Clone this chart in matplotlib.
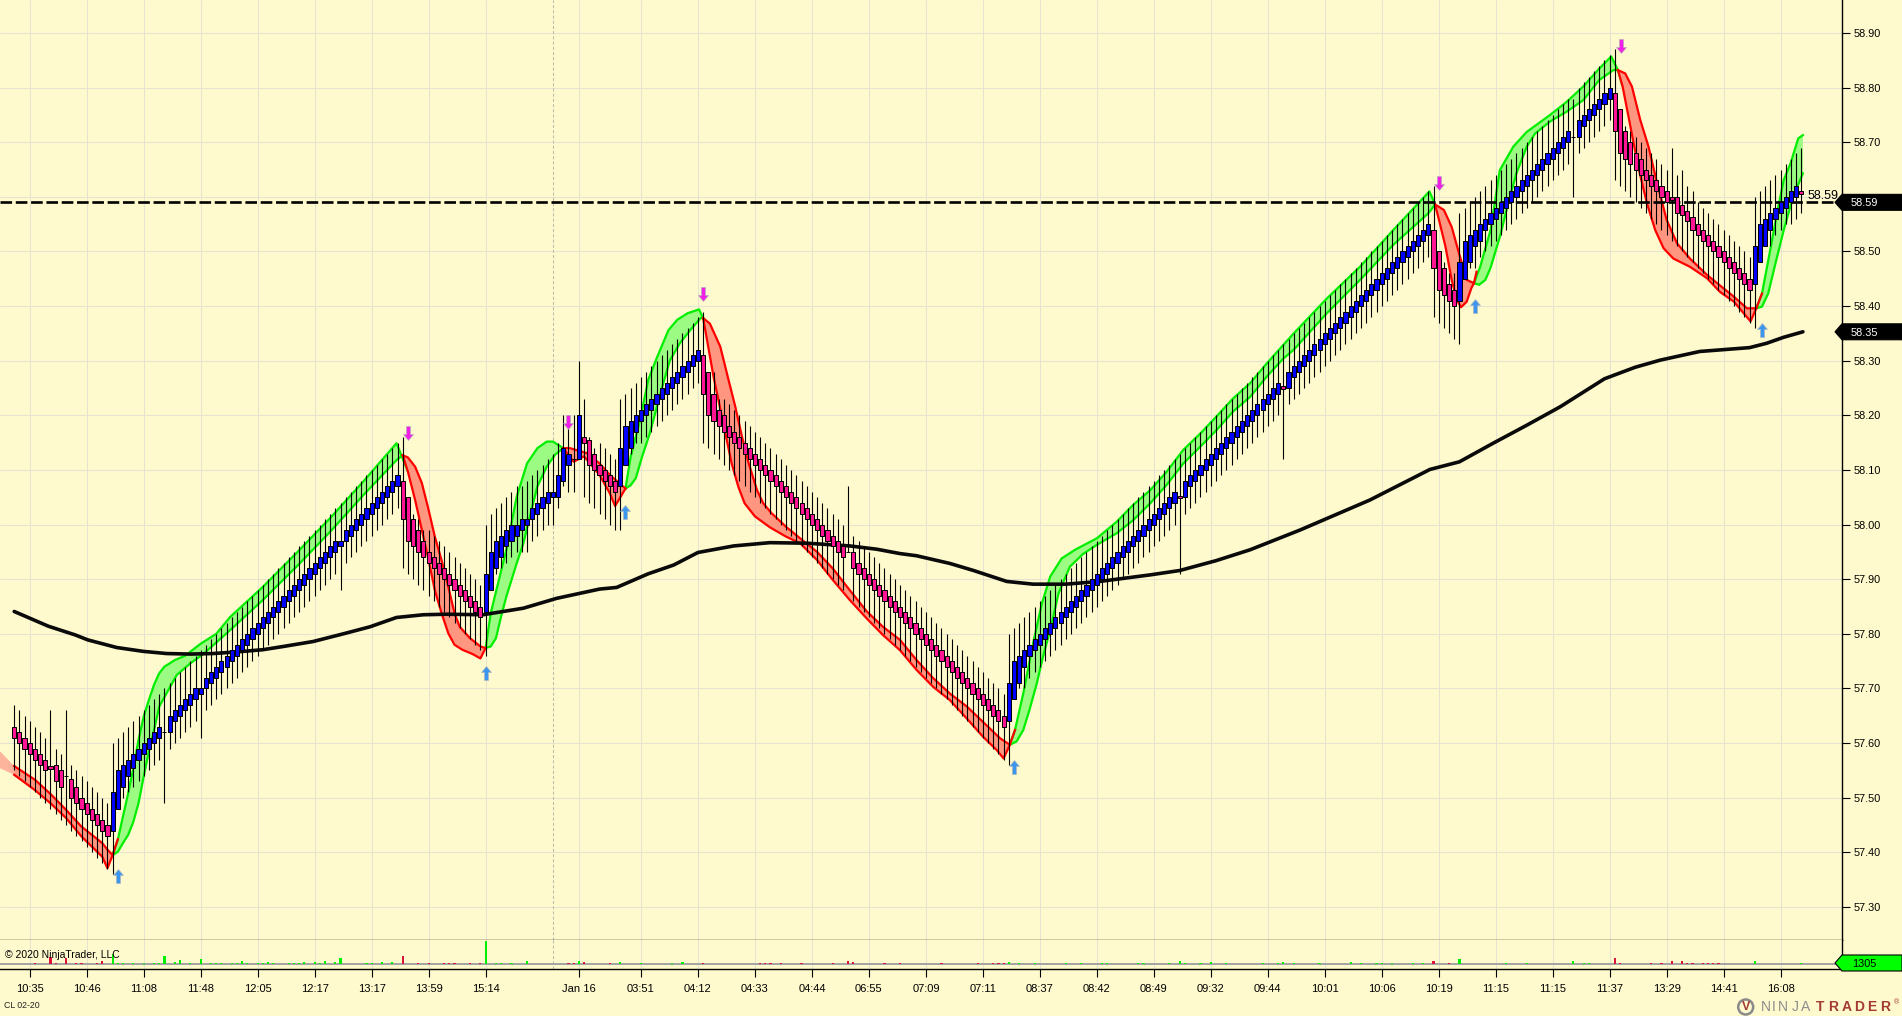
import numpy as np
import matplotlib
matplotlib.use("Agg")
import matplotlib.pyplot as plt
from matplotlib.path import Path
from matplotlib.patches import Polygon, Circle
from matplotlib.transforms import IdentityTransform

plt.rcParams['font.family'] = ['Liberation Sans', 'DejaVu Sans']

# ---------- bar data, price in cents ----------
opens = [
5763,5762,5761,5760,5759,5758,5757,5755.8,5756,5755,
5754,5753.5,5752,5750,5749,5748,5747,5746,5745,5744,
5748,5752,5754,5755.5,5757,5758,5759,5760,5761,5762,
5762,5764,5765,5766,5767,5768,5769,5770,5771,5772,
5773,5774,5775,5776,5777,5778,5779,5780,5781,5782,
5783,5784,5785,5786,5787,5788,5789,5790,5791,5792,
5793,5794,5795,5796,5797,5798,5799,5800,5801,5802,
5803,5804,5805,5806,5807,5808,5805,5801,5799,5797,
5795,5794,5793,5792,5791,5790,5789,5788,5787,5786,
5785,5784,5788,5792,5794,5796,5797,5798,5799,5800,
5801,5802,5803,5804,5805,5805,5808,5811,5812,5812,
5816,5815.5,5813,5811,5810,5809,5808,5807,5811,5814,
5817,5819,5820,5821,5822,5823,5824,5825,5826,5827,
5828,5829,5830,5831,5828,5824,5821,5820,5818,5817,
5816,5815,5814,5813,5812,5811,5810,5809,5808,5807,
5806,5805,5804,5803,5802,5801,5800,5799,5798,5797,
5796,5795,5795,5793,5792,5791,5790,5789,5788,5787,
5786,5785,5784,5783,5782,5781,5780,5779,5778,5777,
5776,5775,5774,5773,5772,5771,5770,5769,5768,5767,
5766,5765,5764,5768,5771,5774,5776,5777,5778,5779,
5780,5781,5782,5783,5784,5785,5786,5787,5788,5789,
5790,5791,5792,5793,5794,5795,5796,5797,5798,5799,
5800,5801,5802,5803,5804,5805.3,5805,5807,5808,5809,
5810,5811,5812,5813,5814,5815,5816,5817,5818,5819,
5820,5821,5822,5823,5824,5825.3,5825,5827,5828,5829,
5830,5831,5832,5833,5834,5835,5836,5837,5838,5839,
5840,5841,5842,5843,5844,5845,5846,5847,5848,5849,
5850,5851,5852,5853,5854,5850,5847,5844,5843,5841,
5845,5848,5851,5852,5854,5855,5856,5857,5858,5859,
5860,5861,5862,5863,5864,5865,5866,5867,5868,5869,
5870,5871,5871,5873,5874,5875,5876,5877,5878,5879,
5876,5872,5870,5868,5867,5865,5864,5863,5862,5861,
5860,5860,5858.5,5857.5,5856.4,5855,5854,5853,5852,5851,
5850,5849,5848,5847,5846,5845,5844,5848,5851,5854,
5856,5857,5858,5859,5860,5861]
closes = [
5761,5760,5759,5758,5757,5756,5755,5755.3,5753,5752,
5754,5750,5749,5748,5747,5746,5745,5744,5743,5751,
5755,5756,5757,5758,5759,5760,5761,5762,5763,5762,
5765,5766,5767,5768,5769,5770,5770,5772,5773,5774,
5775,5776,5777,5778,5779,5780,5781,5782,5783,5784,
5785,5786,5787,5788,5789,5790,5791,5792,5793,5794,
5795,5796,5797,5797,5799,5800,5801,5802,5803,5804,
5805,5806,5807,5808,5809,5801,5797,5796,5795,5794,
5793,5792,5791,5790,5789,5788,5787,5786,5785,5784,
5783,5791,5795,5797,5798,5799,5800,5800,5801,5801,
5803,5804,5805,5806,5806,5809,5814,5813,5812,5820,
5815,5811,5810,5809,5808,5807,5806,5814,5818,5819,
5820,5821,5822,5823,5824,5825,5826,5827,5828,5829,
5830,5831,5832,5824,5820,5819,5818,5817,5816,5815,
5814,5813,5812,5811,5810,5809,5808,5807,5806,5805,
5804,5803,5802,5801,5800,5799,5798,5797,5796,5795,
5794,5795,5792,5791,5790,5789,5788,5787,5786,5785,
5784,5783,5782,5781,5780,5779,5778,5777,5776,5775,
5774,5773,5772,5771,5770,5769,5768,5767,5766,5765,
5764,5763,5771,5775,5776,5777,5778,5779,5780,5781,
5782,5783,5784,5785,5786,5787,5788,5789,5790,5791,
5792,5793,5794,5795,5796,5797,5798,5799,5800,5801,
5802,5803,5804,5805,5806,5804.9,5808,5809,5810,5811,
5812,5813,5814,5815,5816,5817,5818,5819,5820,5821,
5822,5823,5824,5825,5826,5824.9,5828,5829,5830,5831,
5832,5833,5834,5835,5836,5837,5838,5839,5840,5841,
5842,5843,5844,5845,5846,5847,5848,5849,5850,5851,
5852,5853,5854,5855,5847,5843,5842,5841,5840,5848,
5852,5853,5854,5855,5856,5857,5858,5859,5860,5861,
5862,5863,5864,5865,5866,5867,5868,5869,5870,5871,
5872,5871,5874,5875,5876,5877,5878,5879,5880,5872,
5868,5867,5866,5865,5864,5863,5862,5861,5860,5859,
5859.4,5857,5856.6,5855.5,5854,5853,5852,5851,5850,5849,
5848,5847,5846,5845,5844,5843,5851,5855,5856,5857,
5858,5859,5860,5861,5862,5860.6]
highs = [
5767,5766,5765,5764,5763,5762,5761,5766,5759,5758,
5766,5756,5755,5754,5753,5752,5751,5750,5749,5760,
5761,5762,5763,5764,5765,5766,5767,5768,5769,5770,
5771,5772,5773,5774,5775,5776,5777,5778,5779,5780,
5781,5782,5783,5784,5785,5786,5787,5788,5789,5790,
5791,5792,5793,5794,5795,5796,5797,5798,5799,5800,
5801,5802,5803,5804,5805,5806,5807,5808,5809,5810,
5811,5812,5813,5814,5815,5816,5805,5802,5801,5799,
5799,5798,5797,5796,5795,5794,5793,5792,5791,5790,
5789,5800,5802,5803,5804,5805,5806,5807,5807,5808,
5809,5810,5811,5812,5813,5815,5820,5820,5820,5830,
5823,5816,5814,5815,5814,5813,5812,5823,5824,5825,
5826,5827,5828,5829,5830,5831,5832,5833,5834,5835,
5836,5837,5838,5839,5828,5828,5823,5823,5822,5821,
5820,5819,5818,5817,5816,5815,5814,5813,5812,5811,
5810,5809,5808,5807,5806,5805,5804,5803,5802,5801,
5800,5807,5798,5797,5796,5795,5794,5793,5792,5791,
5790,5789,5788,5787,5786,5785,5784,5783,5782,5781,
5780,5779,5778,5777,5776,5775,5774,5773,5772,5771,
5770,5769,5780,5781,5782,5783,5784,5785,5786,5787,
5788,5789,5790,5791,5792,5793,5794,5795,5796,5797,
5798,5799,5800,5801,5802,5803,5804,5805,5806,5807,
5808,5809,5810,5811,5812,5813,5814,5815,5816,5817,
5818,5819,5820,5821,5822,5823,5824,5825,5826,5827,
5828,5829,5830,5831,5832,5833,5834,5835,5836,5837,
5838,5839,5840,5841,5842,5843,5844,5845,5846,5847,
5848,5849,5850,5851,5852,5853,5854,5855,5856,5857,
5858,5859,5860,5861,5862,5850,5848,5846,5846,5857,
5858,5859,5860,5861,5862,5863,5864,5865,5866,5867,
5868,5869,5870,5871,5872,5873,5874,5875,5876,5877,
5878,5878,5880,5881,5882,5883,5884,5885,5886,5887,
5876,5873,5872,5871,5870,5869,5868,5867,5866,5865,
5869,5864,5865,5862,5861,5859,5858,5857,5856,5855,
5854,5853,5852,5851,5850,5849,5860,5861,5862,5863,
5864,5865,5866,5867,5868,5869]
lows = [
5755,5754,5753,5752,5751,5750,5749,5748,5747,5746,
5745,5744,5743,5742,5741,5740,5739,5738,5737,5736,
5748,5750,5751,5752,5753,5754,5755,5756,5757,5749,
5759,5760,5761,5762,5763,5764,5761,5766,5767,5768,
5769,5770,5771,5772,5773,5774,5775,5776,5777,5778,
5779,5780,5781,5782,5783,5784,5785,5786,5787,5788,
5789,5790,5791,5788,5793,5794,5795,5796,5797,5798,
5799,5800,5801,5802,5803,5792,5791,5790,5789,5788,
5787,5786,5785,5784,5783,5782,5781,5780,5779,5778,
5777,5776,5788,5791,5792,5793,5794,5795,5795,5795,
5797,5798,5799,5800,5800,5803,5807,5806,5806,5812,
5805,5804,5803,5802,5801,5800,5799,5799,5811,5813,
5815,5815,5816,5817,5818,5819,5820,5821,5822,5823,
5824,5825,5826,5815,5814,5813,5812,5811,5810,5809,
5808,5807,5806,5805,5804,5803,5802,5801,5800,5799,
5798,5797,5796,5795,5794,5793,5792,5791,5790,5789,
5788,5795,5786,5785,5784,5783,5782,5781,5780,5779,
5778,5777,5776,5775,5774,5773,5772,5771,5770,5769,
5768,5767,5766,5765,5764,5763,5762,5761,5760,5759,
5758,5757,5756,5768,5770,5770,5772,5773,5774,5775,
5776,5777,5778,5779,5780,5781,5782,5783,5784,5785,
5786,5787,5788,5789,5790,5791,5792,5793,5794,5795,
5796,5797,5798,5799,5800,5791,5802,5803,5804,5805,
5806,5807,5808,5809,5810,5811,5812,5813,5814,5815,
5816,5817,5818,5819,5820,5812,5822,5823,5824,5825,
5826,5827,5828,5829,5830,5831,5832,5833,5834,5835,
5836,5837,5838,5839,5840,5841,5842,5843,5844,5845,
5846,5847,5848,5849,5838,5837,5836,5835,5834,5833,
5845,5847,5847,5849,5850,5851,5852,5853,5854,5855,
5856,5857,5858,5859,5860,5861,5862,5863,5864,5865,
5866,5860,5868,5869,5870,5871,5872,5873,5874,5863,
5862,5861,5860,5859,5858,5857,5856,5855,5854,5853,
5852,5851,5850,5849,5848,5847,5846,5845,5844,5843,
5842,5841,5840,5839,5838,5837,5836,5848,5851,5851,
5853,5854,5855,5855,5856,5857]

# ---------- volume (sparse) ----------
up_vol_idx = [19,20,21,23,25,27,28,29,31,32,34,36,38,39,40,42,43,44,45,47,48,49,50,53,54,55,56,58,59,60,62,63,68,69,71,73,
              91,93,94,96,99,109,117,121,127,129,192,194,197,203,206,210,211,217,218,223,225,226,229,231,234,241,244,245,247,252,
              258,260,263,264,266,270,272,279,288,292,301,303,304,336,345]
up_vol = [13000,1300,1300,1300,1300,1300,1300,10400,2600,5200,1300,6500,1300,1300,1300,1300,1300,3900,1300,1300,1300,2000,1300,1300,1300,1300,2000,2600,1300,3900,2600,7800,1300,1300,2000,2000,
          29900,1300,1300,1300,3900,3900,2000,1300,1300,2600,3200,1300,1300,1300,1300,1300,1300,1300,1300,1300,4500,1300,1300,2600,1300,1300,1300,3200,1300,1300,
          2000,1300,1300,1300,1300,1300,1300,7000,1300,1300,4500,1300,1300,4500,1305]
down_vol_idx = [4,7,8,10,12,13,16,17,75,78,80,83,84,85,88,90,107,108,110,115,133,144,145,146,148,152,158,161,162,168,171,179,186,189,190,191,
                274,277,309,310,316,318,320,322,323,324,326,327,328,329]
down_vol = [1300,9000,1300,7800,1300,1300,1300,3900,10400,1300,1300,1300,1300,1300,1300,1300,1300,1300,3200,1300,1300,1300,1300,1300,1300,1300,1300,3900,2600,1300,1300,1300,1300,1300,1300,1300,
            3900,1300,7800,1300,1300,1300,3900,3900,1300,1300,1300,1300,1300,1300]

# ---------- indicator bands: (upper idx, upper, lower idx, lower) ----------
red0 = ([0,4,7,10,13,17,18,19],[57.558,57.533,57.507,57.478,57.447,57.417,57.405,57.395],
        [0,4,7,10,13,17,18,19,20],[57.542,57.514,57.490,57.463,57.429,57.392,57.371,57.395,57.424])
red0_pale = ([-2.74,0],[57.585,57.558],[-2.74,0],[57.554,57.542])
green0 = ([19,20,21,22,23,24,25,26,27,28,29,31,33,36,39,41.7,48,54.5,61,67.4,73.8,76],
          [57.395,57.423,57.466,57.508,57.554,57.606,57.649,57.679,57.707,57.728,57.740,57.752,57.760,57.782,57.800,57.831,57.886,57.948,58.012,58.079,58.149,58.097],
          [19,20,21,22,23,24,25,26,27,28,29.4,31.4,34,36.5,41.7,48,54.5,61,67.4,73.8,75],
          [57.395,57.401,57.417,57.432,57.456,57.490,57.539,57.585,57.624,57.667,57.691,57.725,57.746,57.763,57.807,57.862,57.923,57.987,58.054,58.118,58.127])
red1 = ([75,76,77.4,78.7,80,81.2,82.5,83.8,85,86,88,90,91],
        [58.127,58.123,58.106,58.076,58.027,57.978,57.935,57.886,57.838,57.813,57.792,57.777,57.774],
        [75,76,77.4,78.7,80,81.2,82.5,83.8,85,86.5,88.5,90,91],
        [58.127,58.097,58.045,57.990,57.935,57.880,57.838,57.801,57.780,57.771,57.763,57.755,57.774])
green1 = ([91,92,93,95,97,99,101,102.8,104,106],
          [57.774,57.838,57.877,57.954,58.051,58.112,58.140,58.152,58.152,58.140],
          [91,92,93,94,95,97,98.3,99.2,101,102.8,104.4,106],
          [57.774,57.777,57.792,57.832,57.868,57.929,57.966,58.002,58.070,58.106,58.128,58.140])
red2 = ([106,107.3,110.5,113,115,118],[58.140,58.140,58.131,58.112,58.091,58.066],
        [106,108,110,113,115,116,118],[58.140,58.115,58.125,58.091,58.057,58.034,58.066])
green2 = ([118,119,120.8,122.4,124,126.3,128,130,132.2,133],
          [58.066,58.124,58.191,58.265,58.304,58.356,58.375,58.387,58.394,58.378],
          [118,119,120,121.2,122.7,124,125.3,126.6,128.5,130.5,132.5,133],
          [58.066,58.072,58.085,58.124,58.167,58.213,58.259,58.301,58.332,58.356,58.378,58.378])
red3 = ([133,134.3,136.3,137.9,139.2,140.5,141.8,143.4,144.6,146.2,149,151.7,155,158,161.3,164.6,167.7,171,174.2,177.4,180.6,183.9,187,190.3,192.2],
        [58.378,58.368,58.326,58.265,58.216,58.161,58.112,58.063,58.039,58.021,57.996,57.975,57.950,57.920,57.880,57.841,57.813,57.789,57.752,57.719,57.691,57.667,57.639,57.609,57.597],
        [133,135,136.9,138.5,139.8,141,143,145.9,149,151.7,155,158,161.3,164.6,167.7,171,174.2,177.4,180.6,183.9,187,189.7,191,192.2,193.2],
        [58.378,58.271,58.185,58.112,58.069,58.039,58.015,57.995,57.978,57.966,57.935,57.899,57.862,57.828,57.798,57.770,57.734,57.703,57.679,57.645,57.612,57.587,57.572,57.597,57.624])
green3 = ([192.2,193.2,194.8,196.7,198.4,200,202.2,204.8,209,212.8,216,219.3,222.5,225.7,229,232.1,235.3,238.6,241.8,245,247,253.4,259.8,266.2,273.2,274.3,275.2],
          [57.597,57.624,57.691,57.783,57.856,57.905,57.938,57.954,57.975,58.005,58.036,58.063,58.097,58.137,58.167,58.198,58.231,58.259,58.295,58.329,58.350,58.414,58.472,58.539,58.610,58.586,58.558],
          [192.2,193.5,194.8,196,197.4,198.6,200,201.6,203.8,206.3,209,212.8,216,219.3,222.5,225.7,229,232.1,235.3,238.6,241.8,245,247,253.4,259.8,266.2,273,274.3],
          [57.597,57.603,57.624,57.661,57.709,57.758,57.807,57.874,57.923,57.946,57.963,57.984,58.008,58.039,58.073,58.112,58.143,58.173,58.207,58.234,58.271,58.304,58.320,58.387,58.448,58.512,58.570,58.586])
red4 = ([274.3,276,277.5,279,280.4,281.8],[58.586,58.576,58.545,58.494,58.448,58.442],
        [274.3,275.2,276.3,277.5,278.5,279.3,280.4,281.3,281.8,282.3],[58.586,58.552,58.509,58.448,58.411,58.398,58.408,58.433,58.442,58.463])
green4 = ([281.8,283,285,286.8,289.4,292,296.5,299.7,302.9,306,308.3,309.6,310.4],
          [58.442,58.472,58.539,58.649,58.692,58.719,58.750,58.774,58.802,58.835,58.857,58.832,58.805],
          [281.8,282.8,284,285,286.9,288.4,290,292,293.6,296.5,299.7,302.9,306,308.7,309.6],
          [58.442,58.439,58.448,58.470,58.530,58.588,58.643,58.692,58.716,58.738,58.756,58.777,58.814,58.832,58.832])
red5 = ([309.6,311,312.3,313.9,315.5,317,319,321,323.5,326.8,332,334.5,336.3],
        [58.832,58.826,58.802,58.741,58.692,58.631,58.558,58.515,58.487,58.457,58.417,58.396,58.396],
        [309.6,310.5,312,313.5,315.2,316.8,318.4,320.3,323.5,326.8,329.3,332,335.2,336.3,337.4],
        [58.832,58.802,58.729,58.655,58.588,58.539,58.506,58.487,58.472,58.451,58.426,58.408,58.372,58.396,58.423])
green5 = ([336.3,337.4,339,340.3,341.6,342.9,344.4,345.3],[58.396,58.423,58.503,58.570,58.631,58.661,58.707,58.713],
          [336.3,337.4,338.6,340,341.6,343.4,345.3],[58.396,58.399,58.423,58.478,58.539,58.600,58.643])

# ---------- slow average ----------
avg_idx = [0,6.6,11.8,14.2,19.8,24.9,29.4,34,38.4,43,48,52,57.7,63.5,68.7,73.8,79,83.5,90.5,98.3,104.7,113,116.3,122.4,127.3,132,138.9,145.9,153,161.3,166.5,171,174.2,180.6,185.2,191.6,196.7,203,209.6,212,219.3,225,232,238.6,248.2,261.7,267.5,273.3,279,285.5,292,298.5,307,312.9,317.7,325.4,335,338.3,341.6,345.3]
avg_val = [57.841,57.814,57.798,57.789,57.775,57.768,57.764,57.763,57.764,57.767,57.771,57.777,57.786,57.800,57.813,57.830,57.835,57.836,57.835,57.847,57.865,57.882,57.885,57.910,57.926,57.949,57.961,57.967,57.966,57.961,57.955,57.947,57.943,57.929,57.916,57.896,57.891,57.891,57.896,57.899,57.908,57.916,57.934,57.954,57.990,58.045,58.073,58.101,58.115,58.149,58.182,58.216,58.267,58.288,58.301,58.317,58.324,58.332,58.343,58.353]

# ---------- signal arrows ----------
up_arrow_idx = [20,91,118,193,282,337.4]
up_arrow_price = [57.357,57.728,58.023,57.556,58.400,58.356]
down_arrow_idx = [76,107,133,275,310.2]
down_arrow_price = [58.168,58.187,58.422,58.626,58.877]

# ---------- axis labels ----------
y_ticks = [57.30,57.40,57.50,57.60,57.70,57.80,57.90,58.00,58.10,58.20,58.30,58.40,58.50,58.60,58.70,58.80,58.90]
y_tick_labels = ["57.30","57.40","57.50","57.60","57.70","57.80","57.90","58.00","58.10","58.20","58.30","58.40","58.50","","58.70","58.80","58.90"]
x_tick_idx = [3,14,25,36,47,58,69,80,91,109,121,132,143,154,165,176,187,198,209,220,231,242,253,264,275,286,297,308,319,330,341]
x_tick_labels = ["10:35","10:46","11:08","11:48","12:05","12:17","13:17","13:59","15:14","Jan 16","03:51","04:12","04:33","04:44","06:55","07:09","07:11","08:37","08:42","08:49","09:32","09:44","10:01","10:06","10:19","11:15","11:15","11:37","13:29","14:41","16:08"]
session_break_idx = 104
last_line = 58.59
avg_flag = 58.353
vol_flag = 1305

# ---------- style ----------
BG = '#FFFACD'; GRID = '#E6E3D0'
PINK = '#FF1493'; BLUE = '#0000FF'
LIME = '#00EE00'; LIME_FILL = '#9CFB82'
RED = '#FF0000'; RED_FILL = '#FF9680'; PALE = '#FDB49C'
W, H = 1902, 1016
AX_R = 1842; P_BOT = 939.5; V_BOT = 969

fig = plt.figure(figsize=(W/100, H/100), dpi=100, facecolor=BG)
ax = fig.add_axes([0, (H-P_BOT)/H, AX_R/W, P_BOT/H], facecolor=BG)
vax = fig.add_axes([0, (H-V_BOT)/H, AX_R/W, (V_BOT-P_BOT)/H], facecolor=BG, sharex=ax)

XL = (-2.741, 352.85)
ax.set_xlim(*XL)
ax.set_ylim(57.2405, 58.9604)
vax.set_ylim(-6500, 31850)

# axes, grid
for a in (ax, vax):
    for s in ('top', 'left'):
        a.spines[s].set_visible(False)
    for s in ('right', 'bottom'):
        a.spines[s].set_color('black'); a.spines[s].set_linewidth(1.0)
    a.set_axisbelow(True)
    a.vlines(x_tick_idx, 0, 1, transform=a.get_xaxis_transform(), color=GRID, lw=0.75, zorder=0.5)
    a.vlines([session_break_idx], 0, 1, transform=a.get_xaxis_transform(), color='#BDBDAE', lw=0.75,
             linestyles=(0, (3, 2)), zorder=0.6)
ax.hlines(y_ticks, 0, 1, transform=ax.get_yaxis_transform(), color=GRID, lw=0.75, zorder=0.5)

ax.yaxis.tick_right()
ax.set_yticks(y_ticks)
ax.set_yticklabels(y_tick_labels, fontsize=7.8, color='black')
ax.tick_params(axis='y', length=6, width=0.8, pad=2.5, direction='out')
ax.tick_params(axis='x', length=0, labelbottom=False)
vax.set_yticks([])
vax.set_xticks(x_tick_idx)
vax.set_xticklabels(x_tick_labels, fontsize=8.0)
vax.tick_params(axis='x', length=6, width=0.8, pad=4.5, direction='out')

# bands
def band(spec, fill, line, z=2.0):
    ux, uy, lx, ly = spec
    px = list(ux) + list(lx)[::-1]
    py = list(uy) + list(ly)[::-1]
    ax.fill(px, py, color=fill, lw=0, zorder=z)
    if line:
        ax.plot(ux, uy, color=line, lw=1.6, zorder=z+0.1, solid_joinstyle='round')
        ax.plot(lx, ly, color=line, lw=1.6, zorder=z+0.1, solid_joinstyle='round')

band(red0_pale, PALE, None)
for spec in (green0, green1, green2, green3, green4, green5):
    band(spec, LIME_FILL, LIME)
for spec in (red0, red1, red2, red3, red4, red5):
    band(spec, RED_FILL, RED, z=2.2)

# slow average
ax.plot(avg_idx, avg_val, color='#0A0A0A', lw=2.6, zorder=3, solid_capstyle='round')

# last price dashed line
ax.axhline(last_line, color='black', lw=1.9, linestyle=(0, (4.4, 1.4)), zorder=3.2)

# candles
o = np.array(opens)/100; c = np.array(closes)/100
hi = np.array(highs)/100; lo = np.array(lows)/100
idx = np.arange(len(c))
ax.vlines(idx, lo, hi, color='black', lw=0.8, zorder=4)
up = c >= o
ax.bar(idx[up], (c-o)[up], bottom=o[up], width=0.8, color=BLUE, edgecolor='black', linewidth=0.72, zorder=5)
ax.bar(idx[~up], (c-o)[~up], bottom=o[~up], width=0.8, color=PINK, edgecolor='black', linewidth=0.72, zorder=5)

# arrows
s = 2/7; hw = 5/7
up_path = Path([(-s,-1),(s,-1),(s,0.15),(hw,0.15),(0,1),(-hw,0.15),(-s,0.15),(-s,-1)], closed=True)
down_path = Path([(-s,1),(s,1),(s,-0.15),(hw,-0.15),(0,-1),(-hw,-0.15),(-s,-0.15),(-s,1)], closed=True)
ax.scatter(up_arrow_idx, up_arrow_price, marker=up_path, s=100, color='#3D96EE', edgecolors='#A9B6BE', linewidths=0.5, zorder=6)
ax.scatter(down_arrow_idx, down_arrow_price, marker=down_path, s=100, color='#F01EE6', edgecolors='#B9A9BE', linewidths=0.5, zorder=6)

# volume panel
vax.axhline(0, color='#A3A3A3', lw=1.4, zorder=2)
vax.bar(up_vol_idx, up_vol, width=0.42, color='#00EE00', zorder=3)
vax.bar(down_vol_idx, down_vol, width=0.42, color='#DC143C', zorder=3)

# flags on the price scale
tr = ax.get_yaxis_transform()
def flag(a, trf, y, half, text, fc, tc):
    x0, x1, xn = 0.9962, 1.0326, 1.0
    a.add_patch(Polygon([(x0, y), (xn, y+half), (x1, y+half), (x1, y-half), (xn, y-half)],
                        closed=True, transform=trf, facecolor=fc, edgecolor='black', lw=0.8, clip_on=False, zorder=7))
    a.text(1.0119, y, text, transform=trf, color=tc, fontsize=7.8, ha='center', va='center_baseline', zorder=8, clip_on=False)
flag(ax, tr, last_line, 0.0146, f"{last_line:.2f}", 'black', 'white')
flag(ax, tr, avg_flag, 0.0146, f"{avg_flag:.2f}", 'black', 'white')
flag(vax, vax.get_yaxis_transform(), vol_flag, 10400, str(vol_flag), '#00FF00', 'black')
ax.text(0.9815, last_line+0.0146, f"{last_line:.2f}", transform=tr, fontsize=9, ha='left', va='center_baseline', color='black', zorder=8, clip_on=False)

# texts
def px_text(x, y, t, **kw):
    fig.text(x/W, 1-y/H, t, va='center', **kw)
px_text(5, 955, "© 2020 NinjaTrader, LLC", fontsize=7.5, color='black', zorder=9)
px_text(4, 1006, "CL 02-20", fontsize=6.3, color='#222222')

# brand mark
logo_letters = list("NINJATRADER")
logo_x = [1765.7,1774,1782.7,1795,1805.7,1820,1833.3,1846.7,1859.3,1871.7,1885]
logo_cols = ['#8C8C8C']*5 + ['#A33A35']*6
for ch, x, col, wt in zip(logo_letters, logo_x, logo_cols, ['normal']*5 + ['bold']*6):
    fig.text(x/W, 1-1007/H, ch, fontsize=10, color=col, ha='center', va='center', fontweight=wt)
fig.text(1897/W, 1-1003/H, "®", fontsize=5, color='#A33A35', ha='center', va='center')
fig.add_artist(Circle((1745.7, H-1007), 7.5, transform=IdentityTransform(), facecolor='none', edgecolor='#8A8A8A', lw=1.8))
fig.text(1745.7/W, 1-1007/H, "V", fontsize=9, fontweight='bold', color='#A33A35', ha='center', va='center')

fig.savefig("out.png", dpi=100, facecolor=BG)
